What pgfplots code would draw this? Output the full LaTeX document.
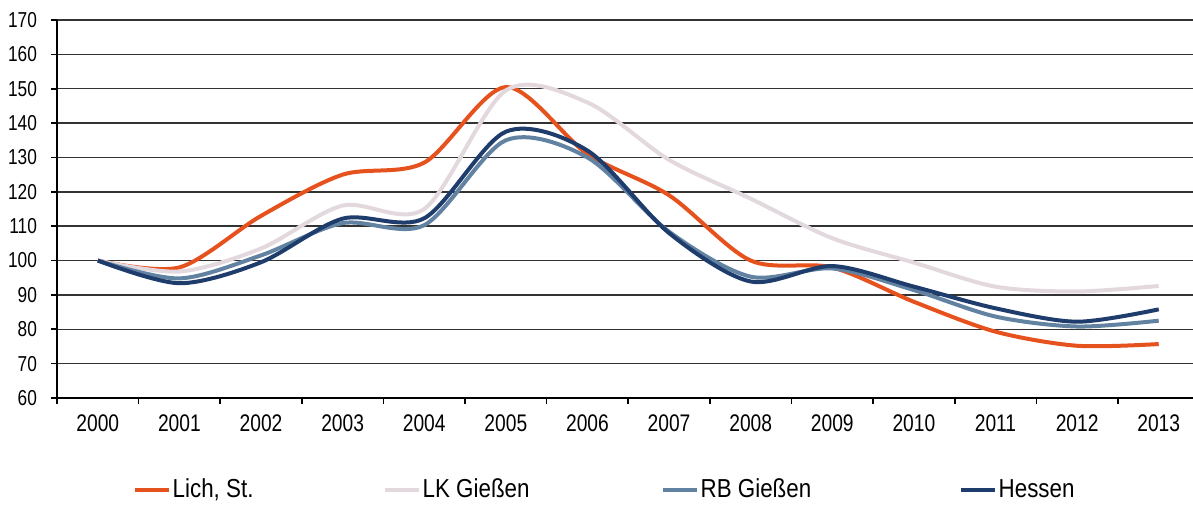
\documentclass[border=0pt]{standalone}
\usepackage{fontspec}
\setmainfont{Liberation Sans}[FakeStretch=0.8]
\newfontfamily\legfont{Liberation Sans}[FakeStretch=0.86]
\usepackage{pgfplots}
\pgfplotsset{compat=1.18}
\definecolor{lich}{RGB}{230,82,30}
\definecolor{lk}{RGB}{226,216,222}
\definecolor{rb}{RGB}{98,130,162}
\definecolor{hes}{RGB}{30,60,108}
\begin{document}
\begin{tikzpicture}
\begin{axis}[
 name=ax,
 scale only axis, width=568pt, height=189pt,
 xmin=-0.5, xmax=13.42, ymin=60, ymax=170,
 ytick={60,70,...,170},
 xtick={0,...,13},
 xticklabels={2000,2001,2002,2003,2004,2005,2006,2007,2008,2009,2010,2011,2012,2013},
 minor xtick={-0.5,0.5,...,12.5},
 major x tick style={draw=none},
 tick align=outside,
 major tick length=3pt, minor tick length=3pt,
 axis lines*=left,
 ymajorgrids, grid style={black!80, line width=0.75pt},
 axis line style={black, line width=0.8pt},
 tick style={black, line width=0.8pt},
 /pgf/number format/assume math mode=true,
 x tick label style={font=\fontsize{12}{14}\selectfont, yshift=-2pt},
 y tick label style={font=\fontsize{10.8}{12}\selectfont, xshift=-3.5pt},
 legend columns=4,
 legend cell align=left,
 legend image code/.code={\draw[#1] (0pt,0pt) -- (17pt,0pt);},
 legend style={draw=none, fill=none, at={(0.061,-0.243)}, anchor=west,
   nodes={inner xsep=1pt},
   /tikz/every even column/.append style={column sep=0pt},
   font=\legfont\fontsize{13}{15}\selectfont},
 every axis plot/.append style={line width=2pt, smooth, tension=0.5},
]
\addplot[lich] coordinates {(0,100)(1,98)(2,113)(3,125)(4,128.5)(5,150.5)(6,131)(7,119)(8,100)(9,98)(10,88)(11,79.3)(12,75.2)(13,75.7)};
\addlegendentry{\makebox[104pt][l]{Lich, St.}}
\addplot[lk] coordinates {(0,100)(1,96.8)(2,103.5)(3,116)(4,115)(5,149.5)(6,146)(7,129.3)(8,118)(9,106.5)(10,99.4)(11,92.4)(12,91)(13,92.6)};
\addlegendentry{\makebox[118pt][l]{LK Gießen}}
\addplot[rb] coordinates {(0,100)(1,94.8)(2,101.5)(3,110.9)(4,110.3)(5,135)(6,130)(7,108.4)(8,95.3)(9,97.7)(10,91.4)(11,83.7)(12,80.8)(13,82.5)};
\addlegendentry{\makebox[128pt][l]{RB Gießen}}
\addplot[hes] coordinates {(0,100)(1,93.4)(2,99.5)(3,112.2)(4,112.3)(5,137.5)(6,132)(7,108)(8,93.9)(9,98.4)(10,92.4)(11,86.1)(12,82.2)(13,85.8)};
\addlegendentry{Hessen}
\end{axis}
\pgfresetboundingbox
\path[use as bounding box] ([shift={(-28.5pt,-55pt)}]ax.south west) rectangle ([shift={(0pt,10pt)}]ax.north east);
\end{tikzpicture}
\end{document}
